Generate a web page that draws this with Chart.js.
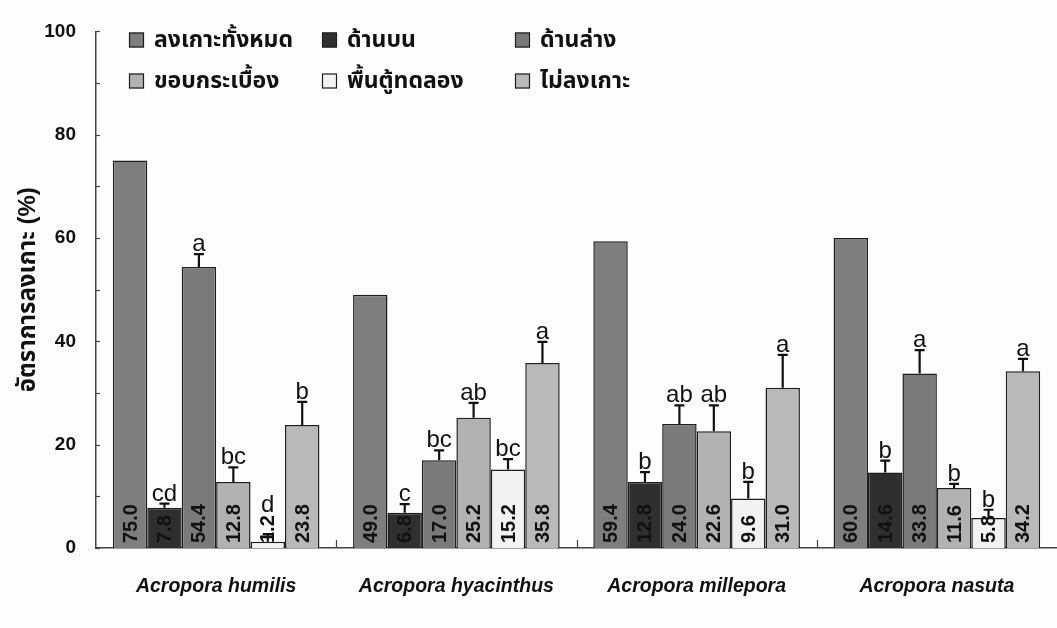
<!DOCTYPE html>
<html>
<head>
<meta charset="utf-8">
<script src="https://cdn.jsdelivr.net/npm/chart.js@4.4.1/dist/chart.umd.min.js"></script>
<style>
  html, body { margin: 0; padding: 0; background: #fdfdfd; }
  #wrap { width: 1057px; height: 628px; }
</style>
</head>
<body>
<div id="wrap"><canvas id="c" width="1057" height="628"></canvas></div>
<script>
// Coral species (x categories)
const species = ['Acropora humilis', 'Acropora hyacinthus', 'Acropora millepora', 'Acropora nasuta'];

// Settlement location series names
const seriesNames = ['ลงเกาะทั้งหมด', 'ด้านบน', 'ด้านล่าง', 'ขอบกระเบื้อง', 'พื้นตู้ทดลอง', 'ไม่ลงเกาะ'];

// Mean settlement (%) per location
const settledTotal = [75.0, 49.0, 59.4, 60.0];
const upperSide    = [7.8, 6.8, 12.8, 14.6];
const lowerSide    = [54.4, 17.0, 24.0, 33.8];
const tileEdge     = [12.8, 25.2, 22.6, 11.6];
const tankFloor    = [1.2, 15.2, 9.6, 5.8];
const notSettled   = [23.8, 35.8, 31.0, 34.2];

// Standard error (no error bar for the total)
const upperErr = [0.8, 1.7, 1.9, 2.3];
const lowerErr = [2.5, 1.9, 3.6, 4.5];
const edgeErr  = [2.8, 2.9, 5.0, 0.8];
const floorErr = [1.5, 2.0, 3.2, 1.6];
const notErr   = [4.5, 4.1, 6.4, 2.4];

// Significance letters within each species
const upperSig = ['cd', 'c', 'b', 'b'];
const lowerSig = ['a', 'bc', 'ab', 'a'];
const edgeSig  = ['bc', 'ab', 'ab', 'b'];
const floorSig = ['d', 'bc', 'b', 'b'];
const notSig   = ['b', 'a', 'a', 'a'];

// Y axis
const yMin = 0, yMax = 100, yStep = 20, yMinorStep = 10;
const yTitle = 'อัตราการลงเกาะ (%)';

const fills = ['#7e7e7e', '#2f2f2f', '#7a7a7a', '#b2b2b2', '#f2f2f2', '#b9b9b9'];
const FONT = "Arial, 'Liberation Sans', Tahoma, 'Noto Sans Thai', sans-serif";

const seriesValues = [settledTotal, upperSide, lowerSide, tileEdge, tankFloor, notSettled];
const seriesErr    = [null, upperErr, lowerErr, edgeErr, floorErr, notErr];
const seriesSig    = [null, upperSig, lowerSig, edgeSig, floorSig, notSig];

const datasets = seriesNames.map((name, i) => ({
  label: name,
  data: seriesValues[i],
  backgroundColor: fills[i],
  borderColor: '#1e1e1e',
  borderWidth: 1.5,
  borderSkipped: 'bottom',
  categoryPercentage: 0.86,
  barPercentage: 1.0,
  errors: seriesErr[i],
  sig: seriesSig[i]
}));

// Axis tick marks, error bars, value labels, letters and the in-plot legend
const annotate = {
  id: 'annotate',
  afterDatasetsDraw(chart) {
    const ctx = chart.ctx;
    const ys = chart.scales.y, xs = chart.scales.x;
    const area = chart.chartArea;
    ctx.save();

    // minor/major ticks on the y axis (pointing inward)
    ctx.strokeStyle = '#444';
    ctx.lineWidth = 1.2;
    for (let v = yMin; v <= yMax; v += yMinorStep) {
      const py = Math.round(ys.getPixelForValue(v)) + 0.5;
      ctx.beginPath();
      ctx.moveTo(area.left - 1, py);
      ctx.lineTo(area.left + 4, py);
      ctx.stroke();
    }
    // category boundary ticks on the x axis
    const n = species.length;
    for (let k = 1; k < n; k++) {
      const px = Math.round((xs.getPixelForValue(k - 1) + xs.getPixelForValue(k)) / 2) + 0.5;
      ctx.beginPath();
      ctx.moveTo(px, area.bottom);
      ctx.lineTo(px, area.bottom - 8);
      ctx.stroke();
    }

    chart.data.datasets.forEach((ds, di) => {
      const meta = chart.getDatasetMeta(di);
      meta.data.forEach((bar, j) => {
        const val = ds.data[j];
        const topY = ys.getPixelForValue(val);
        let capY = topY;
        // error bar
        if (ds.errors) {
          capY = ys.getPixelForValue(val + ds.errors[j]);
          ctx.strokeStyle = '#111';
          ctx.lineWidth = 2.2;
          ctx.beginPath();
          ctx.moveTo(bar.x, topY);
          ctx.lineTo(bar.x, capY);
          ctx.moveTo(bar.x - 5, capY);
          ctx.lineTo(bar.x + 5, capY);
          ctx.stroke();
        }
        // value label, rotated, reading upward from the base
        const txt = val.toFixed(1);
        ctx.font = 'bold 20px ' + FONT;
        const tw = ctx.measureText(txt).width;
        ctx.save();
        ctx.translate(bar.x, bar.base - 5);
        ctx.rotate(-Math.PI / 2);
        ctx.fillStyle = '#111';
        ctx.textAlign = 'left';
        ctx.textBaseline = 'middle';
        ctx.fillText(txt, 0, 1);
        ctx.restore();
        // significance letter above the error bar (and clear of the value label)
        if (ds.sig) {
          const labelTop = bar.base - 5 - tw;
          const ly = Math.min(capY - 3, labelTop - 3);
          ctx.font = '24px ' + FONT;
          ctx.fillStyle = '#111';
          ctx.textAlign = 'center';
          ctx.textBaseline = 'alphabetic';
          ctx.fillText(ds.sig[j], bar.x, ly);
        }
      });
    });

    // legend inside the plot area: 3 columns x 2 rows
    const colX = [129, 322, 515];
    const rowY = [40, 81];
    ctx.font = 'bold 23px ' + FONT;
    chart.data.datasets.forEach((ds, i) => {
      const cx = colX[i % 3], cy = rowY[Math.floor(i / 3)];
      ctx.fillStyle = ds.backgroundColor;
      ctx.fillRect(cx, cy - 7.5, 15, 15);
      ctx.strokeStyle = '#1e1e1e';
      ctx.lineWidth = 1.2;
      ctx.strokeRect(cx + 0.5, cy - 7, 14, 14);
      ctx.fillStyle = '#111';
      ctx.textAlign = 'left';
      ctx.textBaseline = 'middle';
      ctx.fillText(ds.label, cx + 25, cy + 1);
    });
    ctx.restore();
  }
};

new Chart(document.getElementById('c'), {
  type: 'bar',
  data: { labels: species, datasets },
  options: {
    responsive: false,
    devicePixelRatio: 1,
    animation: false,
    layout: { padding: { top: 17, right: 0, left: 0, bottom: 0 } },
    plugins: {
      legend: { display: false },
      tooltip: { enabled: false }
    },
    scales: {
      x: {
        grid: { display: false, drawTicks: false },
        border: { display: true, color: '#444', width: 1.5 },
        ticks: {
          padding: 27,
          color: '#111',
          font: { family: FONT, size: 19.5, weight: 'bold', style: 'italic' }
        },
        afterFit(s) { s.height = 80; }
      },
      y: {
        min: yMin, max: yMax,
        grid: { display: false, drawTicks: false },
        border: { display: true, color: '#444', width: 1.5 },
        ticks: {
          stepSize: yStep,
          padding: 20,
          color: '#111',
          font: { family: FONT, size: 19, weight: 'bold' }
        },
        title: {
          display: true,
          text: yTitle,
          color: '#111',
          padding: { top: 14, bottom: 0 },
          font: { family: FONT, size: 24, weight: 'bold' }
        },
        afterFit(s) { s.width = 96; }
      }
    }
  },
  plugins: [annotate]
});
</script>
</body>
</html>
